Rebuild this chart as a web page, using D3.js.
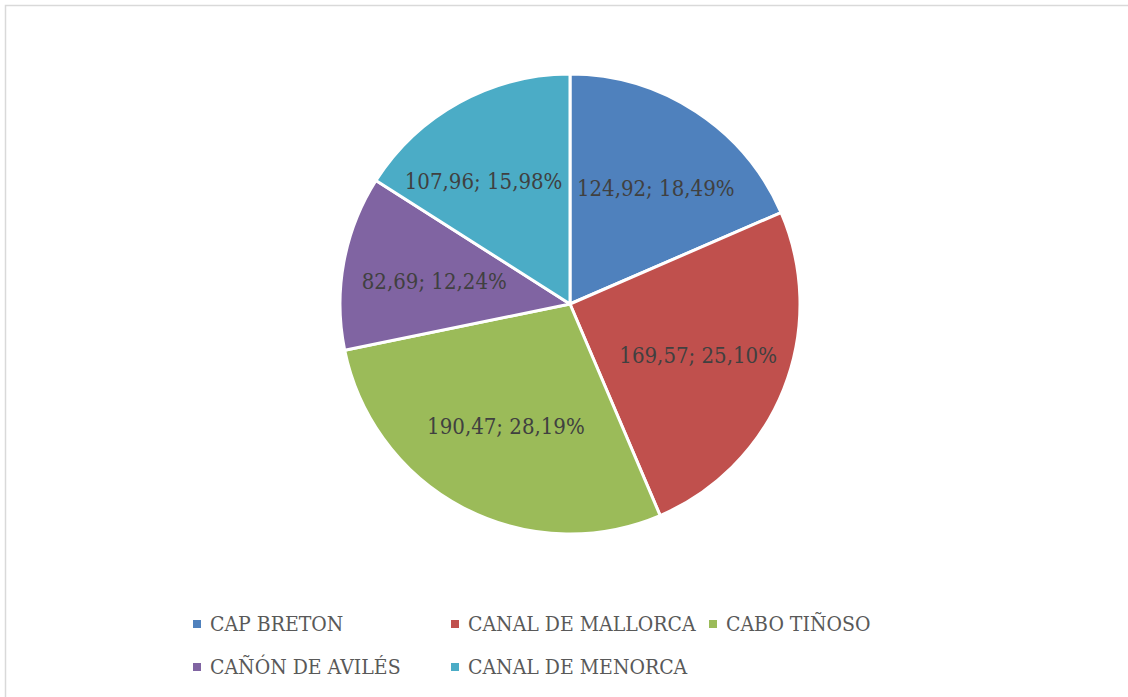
<!DOCTYPE html>
<html>
<head>
<meta charset="utf-8">
<script src="https://cdn.jsdelivr.net/npm/d3@7"></script>
<style>
  body { margin: 0; background: #fff; }
  svg { display: block; }
</style>
</head>
<body>
<div id="chart"></div>
<script>
// data
const categories = ["CAP BRETON", "CANAL DE MALLORCA", "CABO TIÑOSO", "CAÑÓN DE AVILÉS", "CANAL DE MENORCA"];
const values = [124.92, 169.57, 190.47, 82.69, 107.96];
const percents = ["18,49%", "25,10%", "28,19%", "12,24%", "15,98%"];
const valueLabels = ["124,92", "169,57", "190,47", "82,69", "107,96"];
const colors = ["#4F81BD", "#C0504D", "#9BBB59", "#8064A2", "#4BACC6"];

const width = 1128, height = 697;
const cx = 570, cy = 304, R = 230;
const font = "'DejaVu Serif Condensed', 'DejaVu Serif', serif";

const svg = d3.select('#chart').append('svg')
    .attr('width', width)
    .attr('height', height);

// chart area border
svg.append('rect')
    .attr('x', 5.5).attr('y', 5.5)
    .attr('width', width + 10).attr('height', height + 10)
    .attr('fill', 'none')
    .attr('stroke', '#d9d9d9')
    .attr('stroke-width', 1.5);

const pie = d3.pie().sort(null).value(d => d);
const arcs = pie(values);
const arc = d3.arc().innerRadius(0).outerRadius(R);

const g = svg.append('g').attr('transform', `translate(${cx},${cy})`);

g.selectAll('path.slice')
    .data(arcs)
    .enter().append('path')
    .attr('class', 'slice')
    .attr('d', arc)
    .attr('fill', (d, i) => colors[i])
    .attr('stroke', '#fff')
    .attr('stroke-width', 3)
    .attr('stroke-linejoin', 'round');

// labels: start at the centroid, then search inside the slice for a spot where the text box fits
const labelArc = d3.arc().innerRadius(R * 0.6).outerRadius(R * 0.6);

function fits(box, d) {
    const pad = 6;
    const corners = [[box.x0, box.y0], [box.x1, box.y0], [box.x0, box.y1], [box.x1, box.y1]];
    for (const [x, y] of corners) {
        const r = Math.hypot(x, y);
        if (r > R - 8) return false;
        let a = Math.atan2(x, -y);
        if (a < 0) a += 2 * Math.PI;
        if (a < d.startAngle || a > d.endAngle) return false;
        // distance to the slice edges
        const e1 = Math.abs(x * Math.cos(d.startAngle) + y * Math.sin(d.startAngle));
        const e2 = Math.abs(x * Math.cos(d.endAngle) + y * Math.sin(d.endAngle));
        if (e1 < pad || e2 < pad) return false;
    }
    return true;
}

const labels = g.selectAll('text.lbl')
    .data(arcs)
    .enter().append('text')
    .attr('class', 'lbl')
    .attr('text-anchor', 'middle')
    .attr('dy', '0.35em')
    .style('font-family', font)
    .style('font-size', '22px')
    .attr('fill', '#404040')
    .text((d, i) => valueLabels[i] + '; ' + percents[i]);

labels.each(function(d) {
    const w = this.getComputedTextLength(), h = 20;
    const [px, py] = labelArc.centroid(d);
    let best = [px, py], bestDist = Infinity;
    for (let dx = -160; dx <= 160; dx += 2) {
        for (let dy = -100; dy <= 100; dy += 2) {
            const x = px + dx, y = py + dy;
            const box = { x0: x - w / 2, x1: x + w / 2, y0: y - h / 2, y1: y + h / 2 };
            if (!fits(box, d)) continue;
            const dist = dx * dx + dy * dy;
            if (dist < bestDist) { bestDist = dist; best = [x, y]; }
        }
    }
    d3.select(this).attr('x', best[0]).attr('y', best[1]);
});

// legend
const legendRows = [[0, 1, 2], [3, 4]];
const colW = 258;
const legX0 = 193, legY0 = 624, rowH = 43;

const legend = svg.append('g');
legendRows.forEach((row, r) => {
    row.forEach((idx, c) => {
        const item = legend.append('g')
            .attr('transform', `translate(${legX0 + c * colW},${legY0 + r * rowH})`);
        item.append('rect')
            .attr('x', 0).attr('y', -4)
            .attr('width', 8).attr('height', 8)
            .attr('fill', colors[idx]);
        item.append('text')
            .attr('x', 17).attr('y', 0)
            .attr('dy', '0.35em')
            .style('font-family', font)
            .style('font-size', '21px')
            .attr('fill', '#595959')
            .text(categories[idx]);
    });
});
</script>
</body>
</html>
